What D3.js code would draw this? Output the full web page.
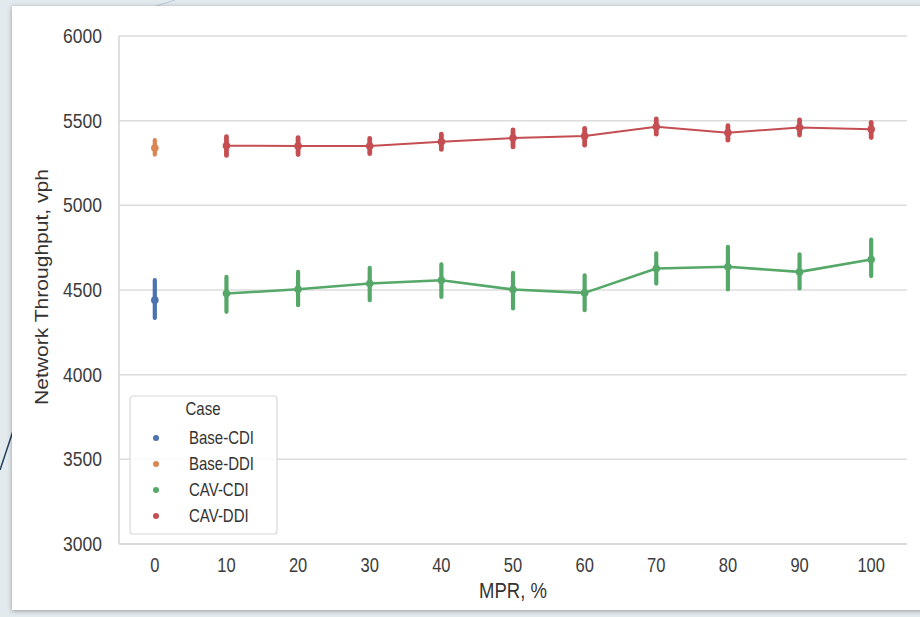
<!DOCTYPE html>
<html><head><meta charset="utf-8">
<script src="https://cdn.jsdelivr.net/npm/d3@7"></script>
<style>
html,body{margin:0;padding:0;background:#e3eaee;}
svg{display:block;}
</style></head>
<body>
<svg id="chart" width="920" height="617"></svg>
<script>
const categories = ["0","10","20","30","40","50","60","70","80","90","100"];
const yTicks = [3000,3500,4000,4500,5000,5500,6000];
const seriesNames = ["Base-CDI","Base-DDI","CAV-CDI","CAV-DDI"];
const seriesColors = ["#4c72b0","#dd8452","#55a868","#c44e52"];

const baseCdiX = ["0"];
const baseCdiMean = [4440];
const baseCdiLow = [4335];
const baseCdiHigh = [4558];

const baseDdiX = ["0"];
const baseDdiMean = [5338];
const baseDdiLow = [5300];
const baseDdiHigh = [5385];

const cavX = ["10","20","30","40","50","60","70","80","90","100"];
const cavCdiMean = [4479,4504,4538,4558,4503,4483,4627,4637,4607,4680];
const cavCdiLow  = [4371,4410,4440,4459,4391,4381,4538,4503,4509,4582];
const cavCdiHigh = [4578,4607,4631,4652,4601,4586,4716,4755,4711,4798];

const cavDdiMean = [5352,5350,5350,5375,5397,5409,5464,5429,5460,5449];
const cavDdiLow  = [5295,5300,5305,5330,5345,5355,5420,5385,5415,5400];
const cavDdiHigh = [5405,5400,5395,5420,5445,5455,5510,5470,5505,5490];

const svg = d3.select("#chart");
const SY = 1.17; // vertical stretch of the source picture's text

// slide background decorations
svg.append("rect").attr("x",0).attr("y",0).attr("width",920).attr("height",617).attr("fill","#e3eaee");
svg.append("path").attr("d","M0,470 L14,428").attr("stroke","#1f3f5c").attr("stroke-width",1.5).attr("fill","none");
svg.append("path").attr("d","M150,8 L175,0").attr("stroke","#b9c9d4").attr("stroke-width",1).attr("fill","none");

// white panel with shadow
const defs = svg.append("defs");
const f = defs.append("filter").attr("id","sh").attr("x","-5%").attr("y","-5%").attr("width","110%").attr("height","110%");
f.append("feGaussianBlur").attr("in","SourceAlpha").attr("stdDeviation",2.5);
f.append("feOffset").attr("dx",0).attr("dy",1).attr("result","b");
f.append("feComponentTransfer").append("feFuncA").attr("type","linear").attr("slope",0.35);
const m = f.append("feMerge"); m.append("feMergeNode"); m.append("feMergeNode").attr("in","SourceGraphic");
svg.append("rect").attr("x",12).attr("y",6).attr("width",915).attr("height",604).attr("fill","#ffffff").attr("filter","url(#sh)");

const L = 119, R = 907, T = 36, B = 544;
const x = d3.scaleBand().domain(categories).range([L,R]);
const xc = c => x(c) + x.bandwidth()/2;
const y = d3.scaleLinear().domain([3000,6000]).range([B,T]);

const font = "'Liberation Sans', Arial, sans-serif";

// grid
svg.append("g").selectAll("line").data(yTicks).join("line")
  .attr("x1",L).attr("x2",R).attr("y1",d=>y(d)).attr("y2",d=>y(d))
  .attr("stroke","#dcdcdc").attr("stroke-width",1.5);
// spines
svg.append("line").attr("x1",L).attr("x2",L).attr("y1",T).attr("y2",B).attr("stroke","#d4d4d4").attr("stroke-width",1.5);
svg.append("line").attr("x1",L).attr("x2",R).attr("y1",B).attr("y2",B).attr("stroke","#d4d4d4").attr("stroke-width",1.5);

// axes via d3 axis
const yAxis = svg.append("g").attr("transform",`translate(${L},0)`)
  .call(d3.axisLeft(y).tickValues(yTicks).tickSize(0).tickPadding(17).tickFormat(d3.format("d")));
yAxis.select(".domain").remove();
yAxis.selectAll("text").attr("font-family",font).attr("font-size",17.5).attr("fill","#3c3c3c")
  .attr("transform",`scale(1,${SY})`);

const xAxis = svg.append("g").attr("transform",`translate(0,${B})`)
  .call(d3.axisBottom(x).tickSize(0));
xAxis.select(".domain").remove();
xAxis.selectAll("text").attr("font-family",font).attr("font-size",16.5).attr("fill","#3c3c3c")
  .attr("y",28/SY).attr("dy",0).attr("transform",`scale(1,${SY})`);

svg.append("text").attr("transform",`translate(513,598) scale(1,${SY})`).attr("text-anchor","middle")
  .attr("font-family",font).attr("font-size",18.5).attr("fill","#333").text("MPR, %");
svg.append("text").attr("transform",`translate(48,287) rotate(-90) scale(${SY},1)`).attr("text-anchor","middle")
  .attr("font-family",font).attr("font-size",18).attr("fill","#333").text("Network Throughput, vph");

function drawSeries(xs, mean, lo, hi, color, lw, ew){
  const g = svg.append("g");
  const pts = xs.map((c,i)=>({c, m:mean[i], lo:lo[i], hi:hi[i]}));
  if (pts.length>1) {
    g.append("path").datum(pts)
      .attr("d", d3.line().x(d=>xc(d.c)).y(d=>y(d.m)))
      .attr("fill","none").attr("stroke",color).attr("stroke-width",lw).attr("stroke-linejoin","round");
  }
  g.selectAll("line.err").data(pts).join("line").attr("class","err")
    .attr("x1",d=>xc(d.c)).attr("x2",d=>xc(d.c)).attr("y1",d=>y(d.lo)).attr("y2",d=>y(d.hi))
    .attr("stroke",color).attr("stroke-width",ew).attr("stroke-linecap","round");
  g.selectAll("circle").data(pts).join("circle")
    .attr("cx",d=>xc(d.c)).attr("cy",d=>y(d.m)).attr("r",3.8).attr("fill",color);
}
drawSeries(cavX, cavCdiMean, cavCdiLow, cavCdiHigh, seriesColors[2], 2.6, 4.2);
drawSeries(cavX, cavDdiMean, cavDdiLow, cavDdiHigh, seriesColors[3], 2, 4.8);
drawSeries(baseCdiX, baseCdiMean, baseCdiLow, baseCdiHigh, seriesColors[0], 2.6, 4.2);
drawSeries(baseDdiX, baseDdiMean, baseDdiLow, baseDdiHigh, seriesColors[1], 2.6, 4.2);

// legend
const lg = svg.append("g");
lg.append("rect").attr("x",130).attr("y",396).attr("width",147).attr("height",138).attr("rx",3)
  .attr("fill","#ffffff").attr("fill-opacity",0.85).attr("stroke","#d8d8d8").attr("stroke-width",1.2);
lg.append("text").attr("transform",`translate(203,415) scale(1,${SY})`).attr("text-anchor","middle")
  .attr("font-family",font).attr("font-size",15).attr("fill","#333").text("Case");
seriesNames.forEach((n,i)=>{
  const yy = 438 + i*26;
  lg.append("circle").attr("cx",156).attr("cy",yy).attr("r",3).attr("fill",seriesColors[i]);
  lg.append("text").attr("transform",`translate(189,${yy+6}) scale(1,${SY})`).attr("font-family",font).attr("font-size",15)
    .attr("fill","#333").text(n);
});
</script>
</body></html>
